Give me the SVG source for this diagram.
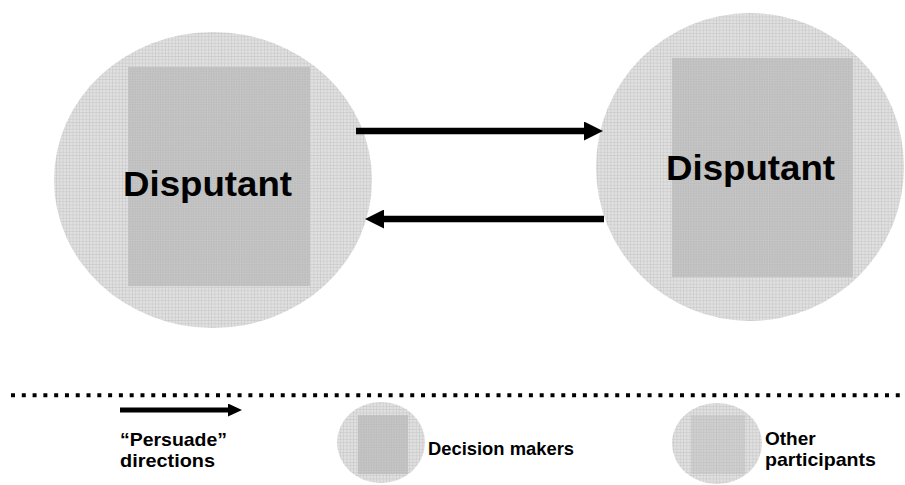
<svg xmlns="http://www.w3.org/2000/svg" width="905" height="485" viewBox="0 0 905 485">
  <style>
    .big { font-family: "Liberation Sans", Arial, sans-serif; font-weight: bold; font-size: 35px; fill: #000; }
    .leg { font-family: "Liberation Sans", Arial, sans-serif; font-weight: bold; font-size: 19px; fill: #000; }
    .outer { fill: url(#gridOuter); }
    .inner { fill: url(#gridInner); }
    .conn { stroke: #000; fill: none; }
  </style>
  <defs>
    <pattern id="gridOuter" patternUnits="userSpaceOnUse" width="3.3" height="3.3">
      <rect width="3.3" height="3.3" fill="#e0e0e0"/>
      <path d="M0,0.3 H3.3 M0.3,0 V3.3" stroke="#c4c4c4" stroke-width="0.6"/>
    </pattern>
    <pattern id="gridInner" patternUnits="userSpaceOnUse" width="3.3" height="3.3">
      <rect width="3.3" height="3.3" fill="#cbcbcb"/>
      <path d="M0,0.3 H3.3 M0.3,0 V3.3 M0,1.95 H3.3 M1.95,0 V3.3" stroke="#b9b9b9" stroke-width="0.6"/>
    </pattern>
    <marker id="headBig" markerUnits="userSpaceOnUse" viewBox="0 0 19 19" markerWidth="19" markerHeight="19" refX="0" refY="9.5" orient="auto">
      <path d="M0,0 L19,9.5 L0,19 Z" fill="#000"/>
    </marker>
    <marker id="headSmall" markerUnits="userSpaceOnUse" viewBox="0 0 14 13" markerWidth="14" markerHeight="13" refX="0" refY="6.5" orient="auto">
      <path d="M0,0 L14,6.5 L0,13 Z" fill="#000"/>
    </marker>
  </defs>

  <g id="disputant-left">
    <ellipse class="outer" cx="213" cy="180" rx="159" ry="148"/>
    <rect class="inner" x="128" y="67" width="182" height="219"/>
    <text class="big" x="123" y="196" textLength="169" lengthAdjust="spacingAndGlyphs">Disputant</text>
  </g>

  <g id="disputant-right">
    <ellipse class="outer" cx="750" cy="167" rx="154" ry="154"/>
    <rect class="inner" x="672" y="58" width="181" height="219"/>
    <text class="big" x="666" y="180" textLength="169" lengthAdjust="spacingAndGlyphs">Disputant</text>
  </g>

  <g id="connectors">
    <line class="conn" x1="356" y1="131" x2="584" y2="131" stroke-width="6.5" marker-end="url(#headBig)"/>
    <line class="conn" x1="604" y1="219" x2="384" y2="219" stroke-width="6.5" marker-end="url(#headBig)"/>
  </g>

  <g id="legend">
    <line x1="11" y1="395.3" x2="901" y2="395.3" stroke="#000" stroke-width="4" stroke-dasharray="4 6.79"/>
    <g id="legend-persuade">
      <line class="conn" x1="120" y1="410" x2="228" y2="410" stroke-width="5" marker-end="url(#headSmall)"/>
      <text class="leg" x="120" y="446" textLength="107" lengthAdjust="spacingAndGlyphs">“Persuade”</text>
      <text class="leg" x="120" y="467" textLength="95" lengthAdjust="spacingAndGlyphs">directions</text>
    </g>
    <g id="legend-decision">
      <ellipse class="outer" cx="381" cy="442.5" rx="44" ry="40.5"/>
      <rect class="inner" x="358" y="415" width="50" height="59"/>
      <text class="leg" x="428" y="455" textLength="146" lengthAdjust="spacingAndGlyphs">Decision makers</text>
    </g>
    <g id="legend-other">
      <ellipse class="outer" cx="717" cy="443.5" rx="45" ry="40.5"/>
      <rect class="inner" x="691" y="415" width="54" height="59" opacity="0.6"/>
      <text class="leg" x="765" y="445">Other</text>
      <text class="leg" x="765" y="466" textLength="111" lengthAdjust="spacingAndGlyphs">participants</text>
    </g>
  </g>
</svg>
